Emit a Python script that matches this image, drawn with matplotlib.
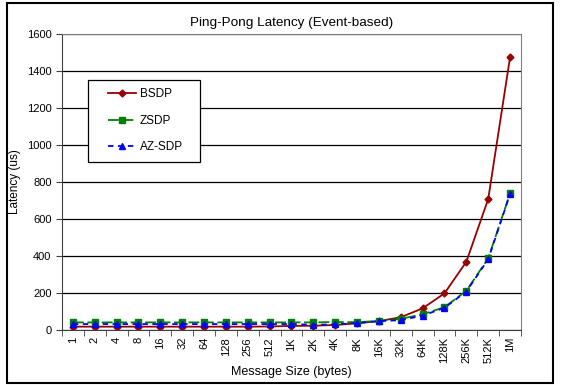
import matplotlib.pyplot as plt
import numpy as np
from matplotlib.patches import Rectangle

plt.rcParams['font.family'] = ['Liberation Sans', 'DejaVu Sans']

# message sizes and measured latency (us)
sizes = ['1', '2', '4', '8', '16', '32', '64', '128', '256', '512', '1K',
         '2K', '4K', '8K', '16K', '32K', '64K', '128K', '256K', '512K', '1M']
bsdp = [18, 18, 18, 18, 18, 18, 18, 18, 18, 19, 22,
        23, 27, 36, 48, 69, 117, 198, 369, 708, 1475]
zsdp = [41, 41, 41, 41, 41, 41, 41, 41, 41, 41, 41,
        41, 43, 42, 49, 60, 85, 123, 212, 387, 738]
azsdp = [32, 32, 32, 32, 32, 32, 32, 32, 32, 32, 32,
         28, 30, 38, 48, 53, 78, 120, 208, 382, 735]

fig = plt.figure(figsize=(5.61, 3.85), dpi=100)
ax = fig.add_axes([0.1105, 0.1429, 0.8182, 0.7688])

x = np.arange(len(sizes))
ax.plot(x, bsdp, color='#990000', linewidth=1.3, marker='D', markersize=3.5,
        label='BSDP')
ax.plot(x, zsdp, color='#008000', linewidth=1.3, marker='s', markersize=5,
        dashes=(6, 2), label='ZSDP')
ax.plot(x, azsdp, color='#0000FF', linewidth=1.3, marker='^', markersize=5,
        dashes=(3, 2.5), label='AZ-SDP')

ax.set_xlim(-0.5, len(sizes) - 0.5)
ax.set_ylim(0, 1600)
ax.set_yticks(np.arange(0, 1601, 200))
ax.yaxis.grid(True, color='black', linewidth=0.9)
ax.set_axisbelow(True)

ax.set_xticks(x)
ax.set_xticklabels(sizes, rotation=90, fontsize=8)
ax.set_xticks(np.arange(-0.5, len(sizes), 1), minor=True)
ax.tick_params(axis='x', which='major', length=0, pad=5)
ax.tick_params(axis='x', which='minor', length=4, direction='out', color='#404040')
ax.tick_params(axis='y', length=4, direction='out', labelsize=8, color='#404040')

for s in ['top', 'right']:
    ax.spines[s].set_color('#808080')
for s in ['left', 'bottom']:
    ax.spines[s].set_color('#404040')

ax.set_xlabel('Message Size (bytes)', fontsize=9, labelpad=2)
ax.set_ylabel('Latency (us)', fontsize=8.5, labelpad=4)
ax.set_title('Ping-Pong Latency (Event-based)', fontsize=9.7, pad=6)

# legend box drawn separately so its padding can match the original
ax.add_patch(Rectangle((0.0566, 0.5676), 0.2441, 0.277, transform=ax.transAxes,
                       facecolor='white', edgecolor='black', linewidth=0.9,
                       zorder=4))
leg = ax.legend(loc='upper left', bbox_to_anchor=(0.1002, 0.8176), fontsize=8.5,
                frameon=False, borderpad=0, labelspacing=1.25,
                handlelength=2.4, handletextpad=0.3, borderaxespad=0)
leg.set_zorder(5)

fig.patches.append(Rectangle((7 / 561, 2 / 385), 546 / 561, 380 / 385,
                             transform=fig.transFigure, fill=False,
                             edgecolor='black', linewidth=1.5))

fig.savefig('out.png', dpi=100)
